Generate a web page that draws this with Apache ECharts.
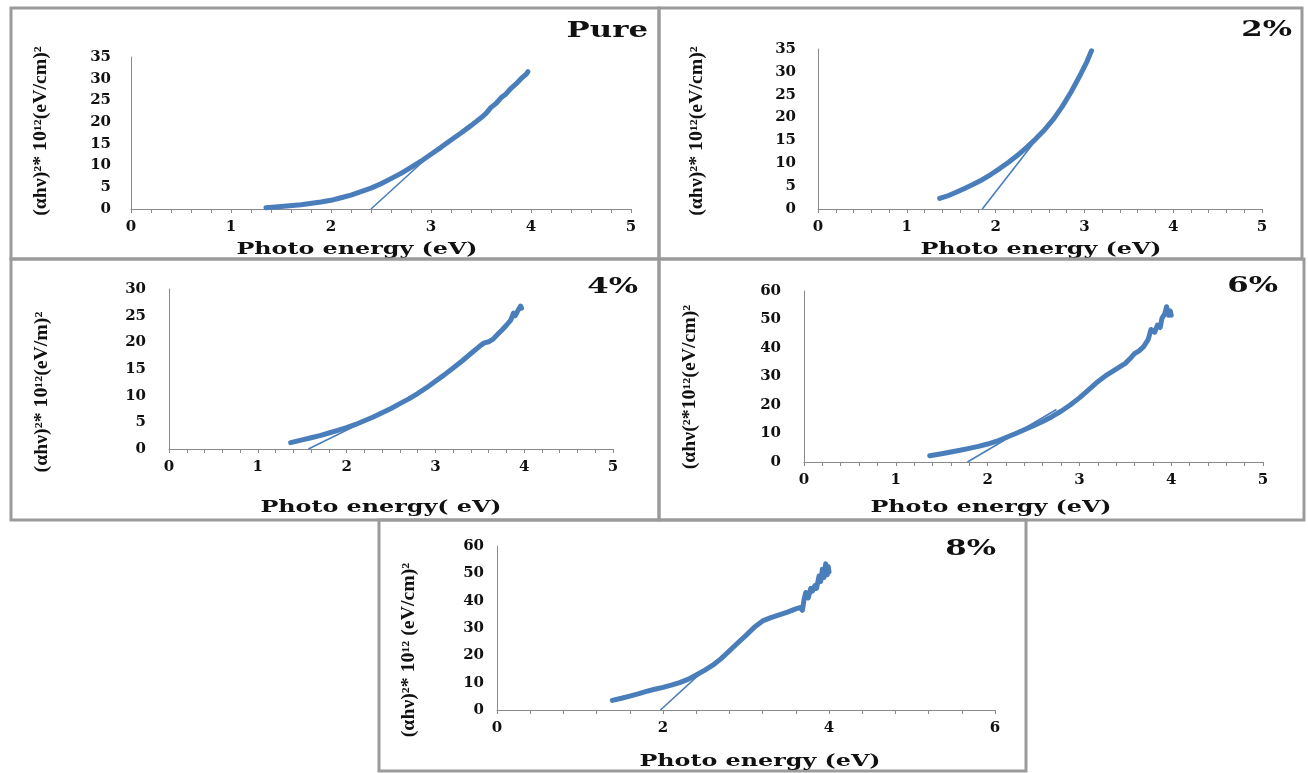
<!DOCTYPE html>
<html>
<head>
<meta charset="utf-8">
<script src="https://cdn.jsdelivr.net/npm/echarts@6/dist/echarts.min.js"></script>
<style>
  html, body { margin: 0; padding: 0; background: #fff; }
  #main { width: 1308px; height: 773px; }
</style>
</head>
<body>
<div id="main"></div>
<script>
// Tauc plots, (αhν)² vs photon energy, one panel per doping level

// Pure
const pureE = [1.35, 1.5, 1.7, 1.9, 2.0, 2.1, 2.2, 2.3, 2.4, 2.5, 2.6, 2.7, 2.8, 2.9, 3.0, 3.1, 3.2, 3.3, 3.4, 3.5, 3.55, 3.6, 3.65, 3.7, 3.75, 3.8, 3.85, 3.9, 3.95, 3.97]
const pureV = [0.3, 0.6, 1.0, 1.6, 2.0, 2.6, 3.2, 4.0, 4.8, 5.8, 7.0, 8.2, 9.6, 11.0, 12.6, 14.2, 15.9, 17.5, 19.2, 21.0, 22.0, 23.4, 24.3, 25.6, 26.5, 27.8, 28.8, 30.0, 31.0, 31.6]
const pureFitE = [2.4, 3.0]
const pureFitV = [0, 12.6]

// 2%
const d2E = [1.37, 1.45, 1.55, 1.65, 1.75, 1.85, 1.95, 2.05, 2.15, 2.25, 2.35, 2.45, 2.55, 2.65, 2.75, 2.85, 2.95, 3.03, 3.08]
const d2V = [2.3, 2.8, 3.6, 4.5, 5.4, 6.4, 7.6, 8.9, 10.3, 11.8, 13.5, 15.3, 17.3, 19.6, 22.4, 25.6, 29.2, 32.3, 34.6]
const d2FitE = [1.85, 2.75]
const d2FitV = [0, 22.5]

// 4%
const d4E = [1.37, 1.5, 1.6, 1.7, 1.8, 1.9, 2.0, 2.1, 2.2, 2.3, 2.4, 2.5, 2.6, 2.7, 2.8, 2.9, 3.0, 3.1, 3.2, 3.3, 3.4, 3.5, 3.55, 3.6, 3.65, 3.7, 3.75, 3.8, 3.85, 3.88, 3.9, 3.93, 3.96, 3.97]
const d4V = [1.2, 1.7, 2.1, 2.5, 3.0, 3.5, 4.0, 4.6, 5.3, 6.0, 6.8, 7.6, 8.5, 9.4, 10.4, 11.5, 12.7, 13.9, 15.2, 16.5, 17.9, 19.3, 19.9, 20.1, 20.6, 21.5, 22.3, 23.2, 24.2, 25.5, 25.0, 26.0, 26.8, 26.4]
const d4FitE = [1.57, 2.3]
const d4FitV = [0, 6.0]

// 6%
const d6E = [1.37, 1.5, 1.6, 1.7, 1.8, 1.9, 2.0, 2.1, 2.2, 2.3, 2.4, 2.5, 2.6, 2.7, 2.8, 2.9, 3.0, 3.1, 3.2, 3.3, 3.4, 3.5, 3.55, 3.6, 3.65, 3.7, 3.75, 3.78, 3.82, 3.85, 3.88, 3.9, 3.93, 3.95, 3.97, 3.99, 4.0]
const d6V = [2.2, 2.9, 3.5, 4.1, 4.8, 5.5, 6.3, 7.3, 8.6, 9.9, 11.3, 12.7, 14.2, 15.9, 17.8, 20.0, 22.5, 25.3, 28.2, 30.6, 32.6, 34.6, 36.2, 38.0, 39.0, 40.5, 43.0, 46.5, 45.5, 48.0, 47.2, 50.5, 52.0, 54.5, 51.5, 53.0, 51.5]
const d6FitE = [1.78, 2.75]
const d6FitV = [0, 18.4]

// 8%
const d8E = [1.39, 1.5, 1.6, 1.7, 1.8, 1.9, 2.0, 2.1, 2.2, 2.3, 2.4, 2.5, 2.6, 2.7, 2.8, 2.9, 3.0, 3.1, 3.2, 3.3, 3.4, 3.5, 3.6, 3.65, 3.68, 3.7, 3.72, 3.75, 3.78, 3.8, 3.83, 3.85, 3.88, 3.9, 3.92, 3.94, 3.96, 3.98, 3.99, 4.0]
const d8V = [3.5, 4.3, 5.1, 5.9, 6.8, 7.6, 8.3, 9.1, 10.0, 11.2, 12.8, 14.5, 16.4, 18.8, 21.6, 24.5, 27.3, 30.3, 32.6, 33.8, 34.8, 35.8, 37.0, 37.5, 36.5, 40.5, 43.0, 41.0, 44.5, 43.5, 45.5, 44.5, 49.0, 47.0, 51.5, 48.5, 53.5, 49.5, 52.5, 50.5]
const d8FitE = [1.97, 2.5]
const d8FitV = [0, 14.8]

const BLUE = '#4a7ebb'
const SERIF = '"DejaVu Serif", "Liberation Serif", serif'
const TIMES = '"Liberation Serif", "DejaVu Serif", serif'

// panel layout: frame box, plot box, axis ranges and text spots
let panels = [
  { name: 'Pure', e: pureE, v: pureV, fe: pureFitE, fv: pureFitV,
    box: [11, 8, 648, 251], grid: [131, 57, 500, 152], xMax: 5, xStep: 1, yMax: 35, yStep: 5, yMargin: 20,
    title: [648, 31], xTitle: [357, 250], yTitle: [41, 131],
    xName: 'Photo energy (eV)', yName: '(αhν)²* 10¹²(eV/cm)²' },
  { name: '2%', e: d2E, v: d2V, fe: d2FitE, fv: d2FitV,
    box: [659, 8, 643, 251], grid: [818, 49, 444, 160], xMax: 5, xStep: 1, yMax: 35, yStep: 5, yMargin: 22,
    title: [1292, 30], xTitle: [1041, 250], yTitle: [697, 131],
    xName: 'Photo energy (eV)', yName: '(αhν)²* 10¹²(eV/cm)²' },
  { name: '4%', e: d4E, v: d4V, fe: d4FitE, fv: d4FitV,
    box: [11, 259, 648, 261], grid: [169, 289, 444, 160], xMax: 5, xStep: 1, yMax: 30, yStep: 5, yMargin: 23,
    title: [638, 287], xTitle: [381, 508], yTitle: [42, 392],
    xName: 'Photo energy( eV)', yName: '(αhν)²* 10¹²(eV/m)²' },
  { name: '6%', e: d6E, v: d6V, fe: d6FitE, fv: d6FitV,
    box: [659, 259, 645, 261], grid: [804, 291, 459, 171], xMax: 5, xStep: 1, yMax: 60, yStep: 10, yMargin: 23,
    title: [1278, 286], xTitle: [991, 508], yTitle: [690, 387],
    xName: 'Photo energy (eV)', yName: '(αhν(²*10¹²(eV/cm)²' },
  { name: '8%', e: d8E, v: d8V, fe: d8FitE, fv: d8FitV,
    box: [379, 520, 647, 251], grid: [497, 546, 498, 164], xMax: 6, xStep: 2, yMax: 60, yStep: 10, yMargin: 13,
    title: [996, 549], xTitle: [760, 762], yTitle: [409, 650],
    xName: 'Photo energy (eV)', yName: '(αhν)²* 10¹² (eV/cm)²' }
]

function pairs(xs, ys) {
  return xs.map((x, i) => [x, ys[i]])
}

let grids = [], xAxes = [], yAxes = [], series = [], graphics = []

panels.forEach((p, i) => {
  grids.push({ left: p.grid[0], top: p.grid[1], width: p.grid[2], height: p.grid[3], containLabel: false })
  xAxes.push({
    type: 'value', gridIndex: i, min: 0, max: p.xMax, interval: p.xStep,
    axisLine: { lineStyle: { color: '#8a8a8a', width: 1 } },
    axisTick: { show: true, length: 4, lineStyle: { color: '#8a8a8a' } },
    minorTick: { show: true, splitNumber: 5, length: 4, lineStyle: { color: '#8a8a8a' } },
    splitLine: { show: false },
    axisLabel: { color: '#111', fontFamily: SERIF, fontWeight: 'bold', fontSize: 15, margin: 11 }
  })
  yAxes.push({
    type: 'value', gridIndex: i, min: 0, max: p.yMax, interval: p.yStep,
    axisLine: { show: true, lineStyle: { color: '#8a8a8a', width: 1 } },
    axisTick: { show: false },
    splitLine: { show: false },
    axisLabel: { color: '#111', fontFamily: SERIF, fontWeight: 'bold', fontSize: 15, margin: p.yMargin }
  })
  series.push({
    type: 'line', xAxisIndex: i, yAxisIndex: i, data: pairs(p.e, p.v),
    showSymbol: false, smooth: false, silent: true,
    lineStyle: { color: BLUE, width: 5, join: 'round', cap: 'round' }
  })
  series.push({
    type: 'line', xAxisIndex: i, yAxisIndex: i, data: pairs(p.fe, p.fv),
    showSymbol: false, silent: true,
    lineStyle: { color: BLUE, width: 1.6 }
  })

  // frame
  graphics.push({
    type: 'rect', shape: { x: p.box[0], y: p.box[1], width: p.box[2], height: p.box[3] },
    style: { fill: 'none', stroke: '#9b9b9b', lineWidth: 3 }, z: 0
  })
  // panel title
  graphics.push({
    type: 'text', x: p.title[0], y: p.title[1], scaleX: 1.4,
    style: { text: p.name, font: 'bold 22px ' + SERIF, fill: '#111', textAlign: 'right', textVerticalAlign: 'middle', align: 'right', verticalAlign: 'middle' }
  })
  // x axis title
  graphics.push({
    type: 'text', x: p.xTitle[0], y: p.xTitle[1], scaleX: 1.4,
    style: { text: p.xName, font: 'bold 17px ' + SERIF, fill: '#111', textAlign: 'center', textVerticalAlign: 'middle', align: 'center', verticalAlign: 'middle' }
  })
  // y axis title
  graphics.push({
    type: 'text', x: p.yTitle[0], y: p.yTitle[1], rotation: Math.PI / 2, scaleX: 1.1,
    style: { text: p.yName, font: 'bold 18px ' + TIMES, fill: '#111', textAlign: 'center', textVerticalAlign: 'middle', align: 'center', verticalAlign: 'middle' }
  })
})

const chart = echarts.init(document.getElementById('main'), null, { renderer: 'canvas' })
chart.setOption({
  backgroundColor: '#fff',
  animation: false,
  grid: grids,
  xAxis: xAxes,
  yAxis: yAxes,
  series: series,
  graphic: graphics
})
</script>
</body>
</html>
